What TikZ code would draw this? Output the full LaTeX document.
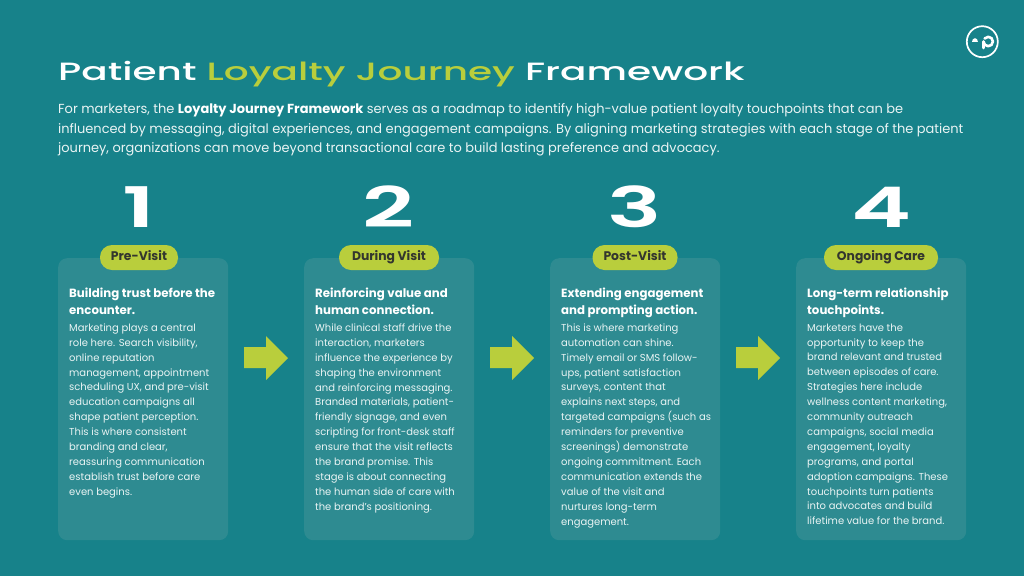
\documentclass[tikz,border=0pt]{standalone}
\usepackage{fontspec}
\setmainfont{Poppins}[FakeStretch=0.99]
\newfontfamily\titlefont{Poppins Medium}[FakeStretch=1.56]
\newfontfamily\numfont{Poppins SemiBold}[FakeStretch=1.62]
\usetikzlibrary{positioning}
\definecolor{tealbg}{HTML}{17828A}
\definecolor{tealcard}{HTML}{2E8B91}
\definecolor{lime}{HTML}{B9CE3C}
\definecolor{pilltext}{HTML}{33362E}
\definecolor{softwhite}{HTML}{EAF4F4}
\tikzset{
	card/.style={fill=tealcard, rounded corners=9pt, minimum width=170pt, minimum height=282pt, anchor=north west, inner sep=0pt},
	pill/.style={fill=lime, rounded corners=12pt, minimum height=25pt, inner sep=0pt, text height=9pt, text depth=3pt, text=pilltext, font=\fontsize{12.5}{13}\selectfont\bfseries},
	stepnum/.style={text=white, inner sep=0pt, font=\numfont\fontsize{56}{56}\selectfont},
	cardhead/.style={text=white, anchor=north west, inner sep=0pt, align=left, font=\fontsize{11.9}{17.6}\selectfont\bfseries},
	cardbody/.style={text=softwhite, anchor=north west, inner sep=0pt, align=left, font=\fontsize{10.1}{14.9}\selectfont},
	nextarrow/.style={fill=lime, draw=none},
}
\begin{document}
\begin{tikzpicture}[x=1pt, y=-1pt, line join=round, line cap=round]
	\useasboundingbox (0,0) rectangle (1024,576);
	\fill[tealbg] (0,0) rectangle (1024,576);
	% title and intro
	\node[anchor=base west, inner sep=0pt, text=white, font=\titlefont\fontsize{25}{28}\selectfont] (title) at (58,80)
	{Patient {\color{lime}Loyalty Journey} Framework};
	\node[anchor=north west, inner sep=0pt, text=softwhite, align=left, font=\fontsize{13.1}{19.8}\selectfont] (intro) at (58,103)
	{For marketers, the {\bfseries\color{white}Loyalty Journey Framework} serves as a roadmap to identify high-value patient loyalty touchpoints that can be\\
	influenced by messaging, digital experiences, and engagement campaigns. By aligning marketing strategies with each stage of the patient\\
	journey, organizations can move beyond transactional care to build lasting preference and advocacy.};
	% logo
	\coordinate (L) at (982.3,41.7);
	\draw[white, line width=1.7pt] (L) circle (15.5);
	\fill[white] (972,42) .. controls (972,37) and (978,37) .. (978,42) -- cycle;
	\draw[white, line width=2.6pt] (983.5,48) -- (983.5,41.5) arc[start angle=180, end angle=-140, radius=4.7];
	% cards
	\node[card] (card1) at (58,258) {};
	\node[card] (card2) at (304,258) {};
	\node[card] (card3) at (550,258) {};
	\node[card] (card4) at (796,258) {};
	% numbers
	\node[stepnum] (num1) at (139,207) {1};
	\node[stepnum] (num2) at (389,207) {2};
	\node[stepnum] (num3) at (635,207) {3};
	\node[stepnum] (num4) at (881,207) {4};
	% pills
	\node[pill, minimum width=78pt] (pill1) at (139,257.5) {Pre-Visit};
	\node[pill, minimum width=100pt] (pill2) at (389,257.5) {During Visit};
	\node[pill, minimum width=85pt] (pill3) at (635,257.5) {Post-Visit};
	\node[pill, minimum width=114pt] (pill4) at (881,257.5) {Ongoing Care};
	% arrows
	\foreach \i in {0,1,2}
	{
		\begin{scope}[xshift=\i*246pt]
			\fill[nextarrow] (244,347) -- (266,347) -- (266,336) -- (288,358) -- (266,380) -- (266,368) -- (244,368) -- cycle;
		\end{scope}
	}
	% card texts
	\node[cardhead] (head1) at (69,287.5) {Building trust before the\\encounter.};
	\node[cardbody] (body1) at (69,323.5) {Marketing plays a central\\role here. Search visibility,\\online reputation\\management, appointment\\scheduling UX, and pre-visit\\education campaigns all\\shape patient perception.\\This is where consistent\\branding and clear,\\reassuring communication\\establish trust before care\\even begins.};
	\node[cardhead] (head2) at (315,287.5) {Reinforcing value and\\human connection.};
	\node[cardbody] (body2) at (315,323.5) {While clinical staff drive the\\interaction, marketers\\influence the experience by\\shaping the environment\\and reinforcing messaging.\\Branded materials, patient-\\friendly signage, and even\\scripting for front-desk staff\\ensure that the visit reflects\\the brand promise. This\\stage is about connecting\\the human side of care with\\the brand's positioning.};
	\node[cardhead] (head3) at (561,287.5) {Extending engagement\\and prompting action.};
	\node[cardbody] (body3) at (561,323.5) {This is where marketing\\automation can shine.\\Timely email or SMS follow-\\ups, patient satisfaction\\surveys, content that\\explains next steps, and\\targeted campaigns (such as\\reminders for preventive\\screenings) demonstrate\\ongoing commitment. Each\\communication extends the\\value of the visit and\\nurtures long-term\\engagement.};
	\node[cardhead] (head4) at (807,287.5) {Long-term relationship\\touchpoints.};
	\node[cardbody] (body4) at (807,323.5) {Marketers have the\\opportunity to keep the\\brand relevant and trusted\\between episodes of care.\\Strategies here include\\wellness content marketing,\\community outreach\\campaigns, social media\\engagement, loyalty\\programs, and portal\\adoption campaigns. These\\touchpoints turn patients\\into advocates and build\\lifetime value for the brand.};
\end{tikzpicture}
\end{document}
